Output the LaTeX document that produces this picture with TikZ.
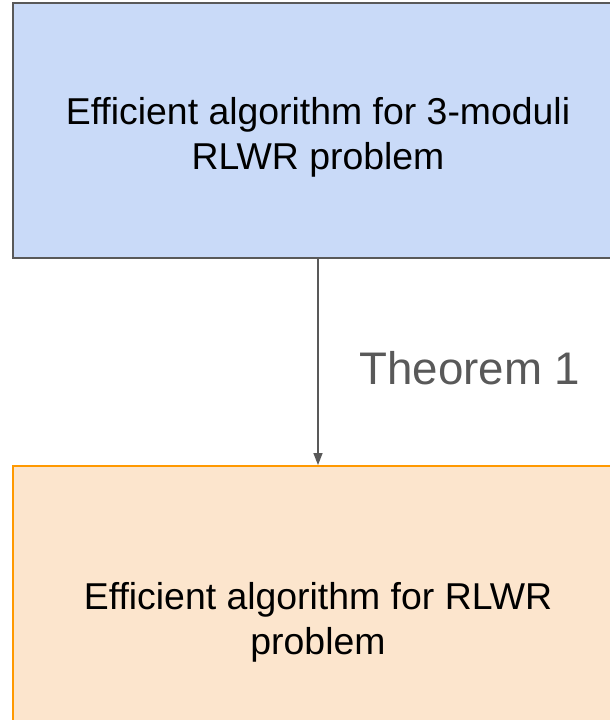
\documentclass[tikz,border=0pt]{standalone}
\usepackage{fontspec}
\setmainfont{Liberation Sans}
\usetikzlibrary{arrows.meta, positioning}
\definecolor{boxblue}{HTML}{C9DAF8}
\definecolor{boxorange}{HTML}{FCE5CD}
\definecolor{edgeorange}{HTML}{FF9900}
\definecolor{dkgray}{HTML}{595959}

\begin{document}
\begin{tikzpicture}[
    >={Triangle[length=8.5pt, width=6.4pt]},
    every node/.style={text=black},
    probbox/.style={rectangle, line width=1.4pt, minimum width=15.25cm},
    probtext/.style={align=center, font=\fontsize{26.6}{32}\selectfont},
  ]

  % Page frame
  \useasboundingbox (0,0) rectangle (15.25,-18);
  \clip (0,0) rectangle (15.25,-18);

  % --- Problem boxes ---
  \node[probbox, fill=boxblue, draw=dkgray, minimum height=6.375cm]
    (threemod) at (7.95,-3.2625) {};
  \node[probbox, fill=boxorange, draw=edgeorange, minimum height=7.65cm]
    (rlwr) at (7.95,-15.475) {};

  % --- Box texts ---
  \node[probtext] (threemodtxt) at ([yshift=-0.17cm]threemod.center)
    {Efficient algorithm for 3-moduli\\RLWR problem};
  \node[probtext] (rlwrtxt) at ([yshift=-0.08cm]rlwr.center)
    {Efficient algorithm for RLWR\\problem};

  % --- Reduction ---
  \draw[->, dkgray, line width=1pt] (threemod) -- (rlwr)
    node[pos=0.53, right=0.9cm, text=dkgray,
         font=\fontsize{32.5}{39}\selectfont] (thm) {Theorem 1};

\end{tikzpicture}
\end{document}
